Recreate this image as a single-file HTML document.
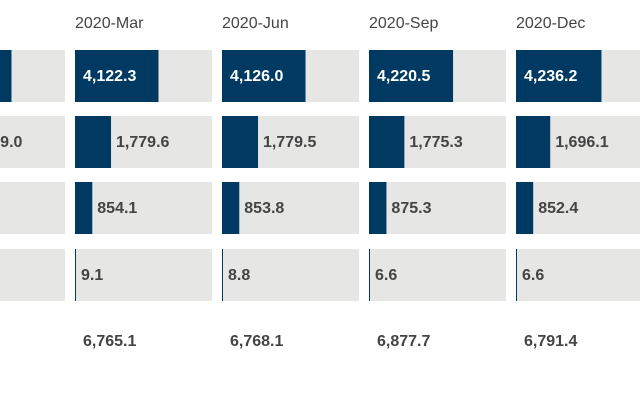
<!DOCTYPE html>
<html><head><meta charset="utf-8"><style>
body{margin:0;width:640px;height:400px;background:#fff;overflow:hidden;font-family:"Liberation Sans",Arial,sans-serif}
svg text{font-family:"Liberation Sans",Arial,sans-serif}
</style></head><body>
<svg id="chart" width="640" height="400" xmlns="http://www.w3.org/2000/svg"></svg>
<script>
const periods=["2020-Jan","2020-Mar","2020-Jun","2020-Sep","2020-Dec"];
const row1=[4100.0,4122.3,4126.0,4220.5,4236.2];
const row2=[1769.0,1779.6,1779.5,1775.3,1696.1];
const row3=[850.0,854.1,853.8,875.3,852.4];
const row4=[9.0,9.1,8.8,6.6,6.6];
const totals=[6728.0,6765.1,6768.1,6877.7,6791.4];
const rows=[row1,row2,row3,row4];
const svg=document.getElementById('chart');
const NS='http://www.w3.org/2000/svg';
const colX=i=>-72+147*i, cellW=137;
const rowY=[50,116,182,249], rowH=52;
const fmt=v=>v.toLocaleString('en-US',{minimumFractionDigits:1,maximumFractionDigits:1});
function mk(tag,attrs,txt){const e=document.createElementNS(NS,tag);for(const k in attrs)e.setAttribute(k,attrs[k]);if(txt!==undefined)e.textContent=txt;svg.appendChild(e);return e;}
periods.forEach((p,i)=>{
  const x=colX(i);
  const h=mk('text',{x:x,y:24,'font-size':16,fill:'#444','dominant-baseline':'middle'},p);
  
  
  rows.forEach((r,j)=>{
    const y=rowY[j];
    const bg=mk('rect',{x:x,y:y,width:cellW,height:rowH,fill:'#e6e6e5'});
    
    
    const w=Math.max(1,r[i]/totals[i]*cellW);
    const b=mk('rect',{x:x,y:y,width:w,height:rowH,fill:'#003a63'});
    
    
    const inside=w>70;
    const t=mk('text',{x:inside?x+8:x+w+5,y:y+rowH/2+1,'font-size':16,'font-weight':'bold',fill:inside?'#fff':'#444','dominant-baseline':'middle'},fmt(r[i]));
    
    
  });
  const tt=mk('text',{x:x+8,y:342,'font-size':16,'font-weight':'bold',fill:'#444','dominant-baseline':'middle'},fmt(totals[i]));
  
  
});
</script>
</body></html>
